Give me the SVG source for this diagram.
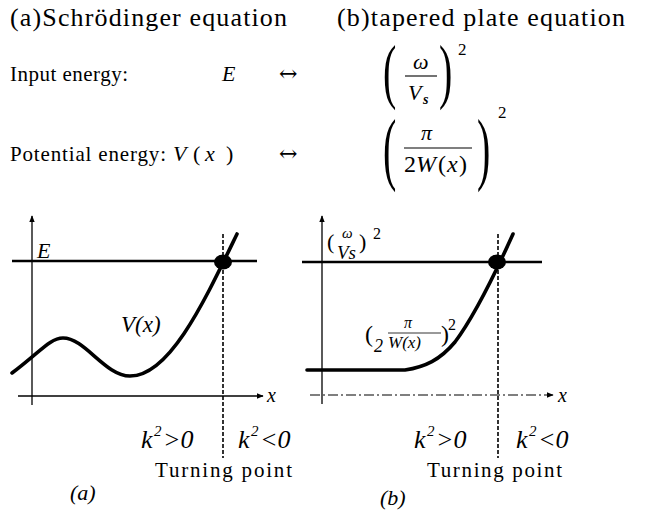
<svg xmlns="http://www.w3.org/2000/svg" width="654" height="511" viewBox="0 0 654 511">
<defs>
<marker id="ar" viewBox="0 0 10 10" refX="9" refY="5" markerWidth="7" markerHeight="7" markerUnits="userSpaceOnUse" orient="auto">
<path d="M0,1 L10,5 L0,9 z" fill="#000"/>
</marker>
</defs>
<rect width="654" height="511" fill="#fff"/>

<g id="header" fill="#000">
<text x="10" y="26" font-size="26" font-family="Liberation Serif" textLength="277">(a)Schrödinger equation</text>
<text x="337" y="26" font-size="26" font-family="Liberation Serif" textLength="288">(b)tapered plate equation</text>
<text x="10" y="81" font-size="21" font-family="Liberation Serif" textLength="118">Input energy:</text>
<text x="222" y="81" font-size="22" font-family="Liberation Serif" font-style="italic">E</text>
<text x="279" y="81" font-size="22" font-family="DejaVu Serif">↔</text>
<text x="10" y="161" font-size="21" font-family="Liberation Serif" textLength="156">Potential energy:</text>
<text x="173" y="161" font-size="22" font-family="Liberation Serif" font-style="italic">V</text>
<text x="193" y="161" font-size="22" font-family="Liberation Serif">(</text>
<text x="205" y="161" font-size="22" font-family="Liberation Serif" font-style="italic">x</text>
<text x="226" y="161" font-size="22" font-family="Liberation Serif">)</text>
<text x="279" y="161" font-size="22" font-family="DejaVu Serif">↔</text>
</g>

<g id="fraction-omega" fill="#000">
<text transform="translate(383,95) scale(1,1.8)" font-size="40" font-family="Liberation Serif">(</text>
<text x="413" y="69" font-size="22" font-family="Liberation Serif" font-style="italic">ω</text>
<line x1="405" y1="76" x2="437" y2="76" stroke="#000" stroke-width="1.1"/>
<text x="408" y="100" font-size="22" font-family="Liberation Serif" font-style="italic">V</text>
<text x="423" y="104" font-size="14" font-family="Liberation Serif" font-style="italic" font-weight="bold">s</text>
<text transform="translate(439,95) scale(1,1.8)" font-size="40" font-family="Liberation Serif">)</text>
<text x="458" y="55" font-size="17" font-family="Liberation Serif">2</text>
</g>

<g id="fraction-pi" fill="#000">
<text transform="translate(383,175) scale(1,2.0)" font-size="40" font-family="Liberation Serif">(</text>
<text x="421" y="140" font-size="22" font-family="Liberation Serif" font-style="italic">π</text>
<line x1="404" y1="148" x2="472" y2="148" stroke="#000" stroke-width="1.1"/>
<text x="404" y="172" font-size="24" font-family="Liberation Serif">2</text>
<text x="416" y="172" font-size="24" font-family="Liberation Serif" font-style="italic">W</text>
<text x="438" y="172" font-size="24" font-family="Liberation Serif">(</text>
<text x="447" y="172" font-size="24" font-family="Liberation Serif" font-style="italic">x</text>
<text x="459" y="172" font-size="24" font-family="Liberation Serif">)</text>
<text transform="translate(477,175) scale(1,2.0)" font-size="40" font-family="Liberation Serif">)</text>
<text x="498" y="118" font-size="17" font-family="Liberation Serif">2</text>
</g>

<g id="connectors" stroke="#000" fill="none">
<line x1="32" y1="405" x2="32" y2="216" stroke-width="1.3" marker-end="url(#ar)"/>
<line x1="18" y1="396" x2="263" y2="396" stroke-width="1.3" marker-end="url(#ar)"/>
<line x1="322" y1="404" x2="322" y2="216" stroke-width="1.3" marker-end="url(#ar)"/>
<line x1="310" y1="395" x2="553" y2="395" stroke-width="1.2" stroke-dasharray="10 3 2 3" marker-end="url(#ar)"/>
</g>

<g id="graph-a" fill="#000">
<line x1="12" y1="261" x2="257" y2="261" stroke="#000" stroke-width="2.6"/>
<path d="M12,373 C40,352 50,338 63,338 C85,338 105,376 130,376 C170,376 205,300 237,234" fill="none" stroke="#000" stroke-width="3.6" stroke-linecap="round"/>
<line x1="223" y1="234" x2="223" y2="458" stroke="#000" stroke-width="1.6" stroke-dasharray="4 2"/>
<ellipse cx="223" cy="262" rx="9" ry="7.5" fill="#000"/>
<text x="37" y="258" font-size="22" font-family="Liberation Serif" font-style="italic">E</text>
<text x="121" y="332" font-size="23" font-family="Liberation Serif" font-style="italic">V(x)</text>
<text x="267" y="402" font-size="20" font-family="Liberation Serif" font-style="italic">x</text>
<text x="141" y="448" font-size="26" font-family="Liberation Serif" font-style="italic">k</text>
<text x="154" y="436" font-size="15" font-family="Liberation Serif" font-style="italic">2</text>
<text x="163" y="448" font-size="26" font-family="Liberation Serif" font-style="italic">&gt;0</text>
<text x="238" y="448" font-size="26" font-family="Liberation Serif" font-style="italic">k</text>
<text x="251" y="436" font-size="15" font-family="Liberation Serif" font-style="italic">2</text>
<text x="260" y="448" font-size="26" font-family="Liberation Serif" font-style="italic">&lt;0</text>
<text x="155" y="477" font-size="21" font-family="Liberation Serif" textLength="137">Turning point</text>
<text x="70" y="500" font-size="22" font-family="Liberation Serif" font-style="italic">(a)</text>
</g>

<g id="graph-b" fill="#000">
<line x1="302" y1="262" x2="542" y2="262" stroke="#000" stroke-width="2.6"/>
<path d="M307,370 L405,370 C425,367 440,360 455,342 C470,322 490,285 513,234" fill="none" stroke="#000" stroke-width="3.6" stroke-linecap="round"/>
<line x1="498" y1="234" x2="498" y2="458" stroke="#000" stroke-width="1.6" stroke-dasharray="4 2"/>
<ellipse cx="497" cy="262" rx="9" ry="7.5" fill="#000"/>
<text x="558" y="402" font-size="20" font-family="Liberation Serif" font-style="italic">x</text>
<text x="327" y="249" font-size="22" font-family="Liberation Serif">(</text>
<text x="342" y="238" font-size="15" font-family="Liberation Serif" font-style="italic">ω</text>
<text x="337" y="259" font-size="19" font-family="Liberation Serif" font-style="italic">Vs</text>
<text x="359" y="249" font-size="22" font-family="Liberation Serif">)</text>
<text x="373" y="239" font-size="16" font-family="Liberation Serif">2</text>
<text x="365" y="342" font-size="24" font-family="Liberation Serif">(</text>
<text x="374" y="352" font-size="18" font-family="Liberation Serif" font-style="italic">2</text>
<text x="404" y="328" font-size="16" font-family="Liberation Serif" font-style="italic">π</text>
<line x1="388" y1="333" x2="441" y2="333" stroke="#000" stroke-width="0.8"/>
<text x="388" y="348" font-size="17" font-family="Liberation Serif" font-style="italic">W(x)</text>
<text x="441" y="342" font-size="24" font-family="Liberation Serif">)</text>
<text x="448" y="330" font-size="16" font-family="Liberation Serif">2</text>
<text x="414" y="448" font-size="26" font-family="Liberation Serif" font-style="italic">k</text>
<text x="427" y="436" font-size="15" font-family="Liberation Serif" font-style="italic">2</text>
<text x="436" y="448" font-size="26" font-family="Liberation Serif" font-style="italic">&gt;0</text>
<text x="516" y="448" font-size="26" font-family="Liberation Serif" font-style="italic">k</text>
<text x="529" y="436" font-size="15" font-family="Liberation Serif" font-style="italic">2</text>
<text x="538" y="448" font-size="26" font-family="Liberation Serif" font-style="italic">&lt;0</text>
<text x="427" y="477" font-size="21" font-family="Liberation Serif" textLength="135">Turning point</text>
<text x="380" y="505" font-size="22" font-family="Liberation Serif" font-style="italic">(b)</text>
</g>
</svg>
